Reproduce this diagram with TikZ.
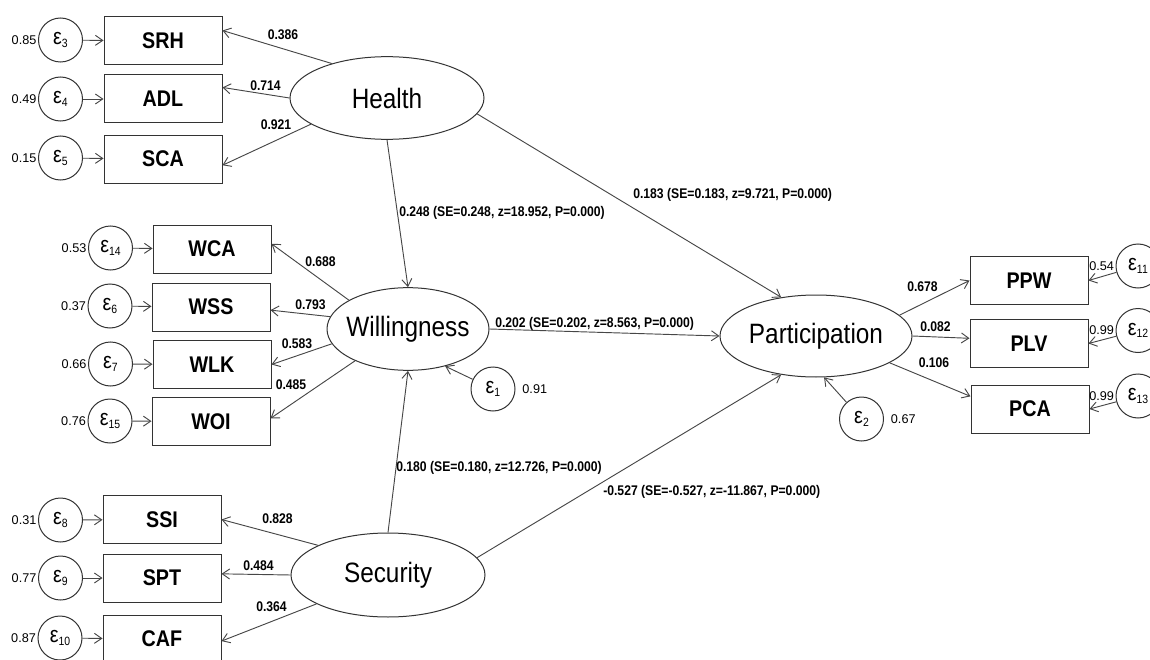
\documentclass[tikz,border=0pt]{standalone}
\usepackage{fontspec}
\setmainfont{Liberation Sans}[FakeStretch=0.87]
\newfontfamily\plainsans{Liberation Sans}
\usetikzlibrary{shapes.geometric,arrows.meta}

\newcommand{\epsub}[1]{\raisebox{-1pt}{ε}\raisebox{-3pt}{\fontsize{9}{9}\selectfont#1}}

\begin{document}
\begin{tikzpicture}[x=0.75pt, y=-0.75pt,
  latent/.style={ellipse, draw=black!80, line width=0.75pt, inner sep=0pt, font=\fontsize{21}{21}\selectfont},
  obs/.style={rectangle, draw=black!80, line width=0.75pt, minimum width=88.5pt, minimum height=36pt, inner sep=0pt, font=\bfseries\fontsize{17}{17}\selectfont},
  err/.style={circle, draw=black!80, line width=0.75pt, minimum size=33pt, inner sep=0pt, font=\fontsize{17}{17}\selectfont},
  link/.style={draw=black!72, line width=0.7pt, -{Straight Barb[length=5.5pt,width=7.5pt]}},
  coef/.style={font=\bfseries\fontsize{10.5}{12}\selectfont, inner sep=0pt},
  var/.style={font=\plainsans\fontsize{9.5}{10}\selectfont, inner sep=1pt}
]
\useasboundingbox (0,0) rectangle (1150,660);

% latent variables
\node[latent, minimum width=145.5pt, minimum height=62pt] (Health) at (387,98) {Health};
\node[latent, inner xsep=-3.5pt, minimum width=121.5pt, minimum height=62pt] (Willingness) at (408,329) {Willingness};
\node[latent, minimum width=145.5pt, minimum height=63pt] (Security) at (388,575) {Security};
\node[latent, minimum width=144pt, minimum height=61.5pt] (Participation) at (816,336) {Participation};

% indicators
\node[obs] (SRH) at (163,41) {SRH};
\node[obs] (ADL) at (163,99) {ADL};
\node[obs] (SCA) at (163,159) {SCA};
\node[obs] (WCA) at (212,249) {WCA};
\node[obs] (WSS) at (211,307) {WSS};
\node[obs] (WLK) at (212,364.5) {WLK};
\node[obs] (WOI) at (211,421.5) {WOI};
\node[obs] (SSI) at (162,519.5) {SSI};
\node[obs] (SPT) at (162,578) {SPT};
\node[obs] (CAF) at (162,639) {CAF};
\node[obs] (PPW) at (1029,280.5) {PPW};
\node[obs] (PLV) at (1029,343.5) {PLV};
\node[obs] (PCA) at (1030,409) {PCA};

% error terms
\node[err, label={[var]left:0.85}] (e3) at (60.5,40) {\epsub{3}};
\node[err, label={[var]left:0.49}] (e4) at (60.5,99) {\epsub{4}};
\node[err, label={[var]left:0.15}] (e5) at (60.5,158) {\epsub{5}};
\node[err, label={[var]left:0.53}] (e14) at (110.5,248) {\epsub{14}};
\node[err, label={[var]left:0.37}] (e6) at (110,306) {\epsub{6}};
\node[err, label={[var]left:0.66}] (e7) at (110.5,364) {\epsub{7}};
\node[err, label={[var]left:0.76}] (e15) at (110,421) {\epsub{15}};
\node[err, label={[var]left:0.31}] (e8) at (60.5,520) {\epsub{8}};
\node[err, label={[var]left:0.77}] (e9) at (60.5,578) {\epsub{9}};
\node[err, label={[var]left:0.87}] (e10) at (60,638) {\epsub{10}};
\node[err, label={[var]left:0.54}] (e11) at (1138,266) {\epsub{11}};
\node[err, label={[var]left:0.99}] (e12) at (1138,330.5) {\epsub{12}};
\node[err, label={[var]left:0.99}] (e13) at (1138,396) {\epsub{13}};
\node[err, label={[var, label distance=4pt]right:0.91}] (e1) at (493,389) {\epsub{1}};
\node[err, label={[var, label distance=4pt]right:0.67}] (e2) at (861.5,419) {\epsub{2}};

% measurement paths
\draw[link] (Health.148) -- (SRH.10);
\draw[link] (Health.180) -- (ADL.11);
\draw[link] (Health.199) -- (SCA.-6);
\draw[link] (Willingness.154) -- (WCA.5);
\draw[link] (Willingness.171) -- (WSS.-3);
\draw[link] (Willingness.191) -- (WLK.east);
\draw[link] (Willingness.211) -- (WOI.3);
\draw[link] (Security.157) -- (SSI.east);
\draw[link] (Security.180) -- (SPT.4);
\draw[link] (Security.202) -- (CAF.-2);
\draw[link] (Participation.14) -- (PPW.west);
\draw[link] (Participation.east) -- (PLV.175);
\draw[link] (Participation.-20) -- (PCA.168);

% error paths
\foreach \e/\v in {e3/SRH, e4/ADL, e5/SCA, e14/WCA, e6/WSS, e7/WLK, e15/WOI, e8/SSI, e9/SPT, e10/CAF}
  \draw[link] (\e) -- (\v);
\draw[link] (e11) -- (PPW.east);
\draw[link] (e12) -- (PLV.east);
\draw[link] (e13) -- (PCA.east);
\draw[link] (e1) -- (Willingness.-45);
\draw[link] (e2) -- (Participation.281);

% structural paths
\draw[link] (Health.south) -- (Willingness.north);
\draw[link] (Health.-10) -- (Participation.132);
\draw[link] (Willingness.east) -- (Participation.west);
\draw[link] (Security.north) -- (Willingness.south);
\draw[link] (Security.11) -- (Participation.228);

% coefficients
\node[coef] (c1) at (283,35) {0.386};
\node[coef] (c2) at (265.5,86) {0.714};
\node[coef] (c3) at (276,125) {0.921};
\node[coef] (c4) at (320.5,262) {0.688};
\node[coef] (c5) at (310.5,305) {0.793};
\node[coef] (c6) at (297,344) {0.583};
\node[coef] (c7) at (291,385) {0.485};
\node[coef] (c8) at (277.5,519) {0.828};
\node[coef] (c9) at (258.5,566) {0.484};
\node[coef] (c10) at (271.5,607) {0.364};
\node[coef] (c11) at (922.5,287) {0.678};
\node[coef] (c12) at (935.5,327) {0.082};
\node[coef] (c13) at (934,363) {0.106};
\node[coef, anchor=west] (c14) at (399,213) {0.248 (SE=0.248, z=18.952, P=0.000)};
\node[coef, anchor=west] (c15) at (633,195) {0.183 (SE=0.183, z=9.721, P=0.000)};
\node[coef, anchor=west] (c16) at (495,324) {0.202 (SE=0.202, z=8.563, P=0.000)};
\node[coef, anchor=west] (c17) at (396,468) {0.180 (SE=0.180, z=12.726, P=0.000)};
\node[coef, anchor=west] (c18) at (603,492) {-0.527 (SE=-0.527, z=-11.867, P=0.000)};
\end{tikzpicture}
\end{document}
